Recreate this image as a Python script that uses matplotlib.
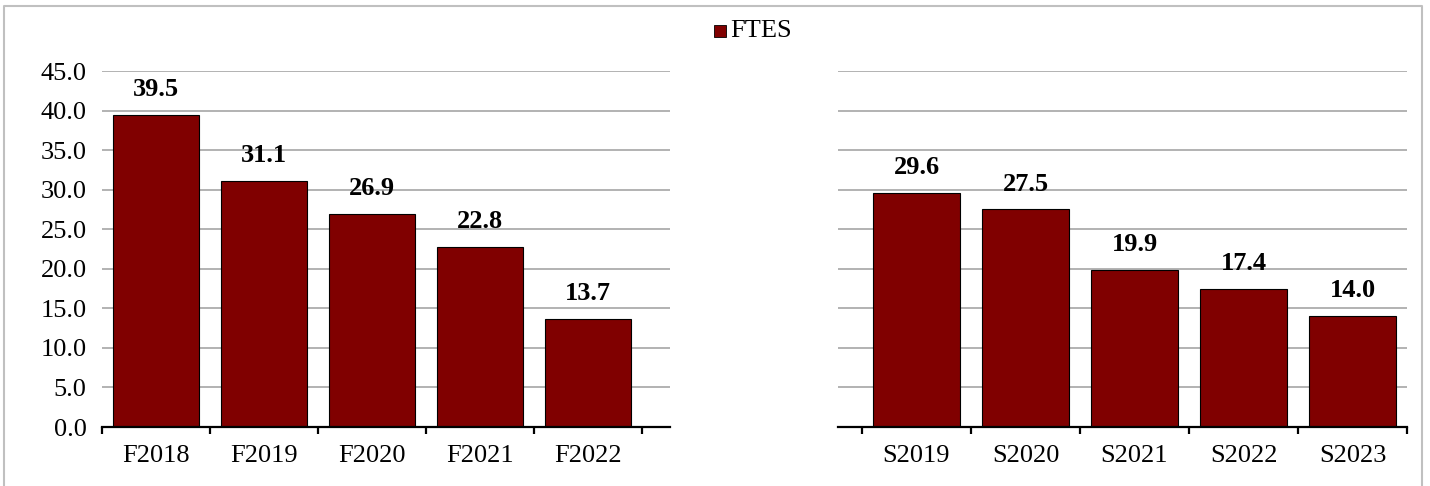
import matplotlib
matplotlib.use("Agg")
import matplotlib.pyplot as plt
from matplotlib.patches import Rectangle
from matplotlib.lines import Line2D
import numpy as np

fall_labels = ["F2018", "F2019", "F2020", "F2021", "F2022"]
fall_values = [39.5, 31.1, 26.9, 22.8, 13.7]
spring_labels = ["S2019", "S2020", "S2021", "S2022", "S2023"]
spring_values = [29.6, 27.5, 19.9, 17.4, 14.0]
y_ticks = [0, 5, 10, 15, 20, 25, 30, 35, 40, 45]
series_name = "FTES"

W, H = 1430, 486
DPI = 100
plt.rcParams['font.family'] = ['Liberation Serif', 'DejaVu Serif']
fig = plt.figure(figsize=(W / DPI, H / DPI), dpi=DPI)

BAR = "#800000"
GRID = "#a6a6a6"
FS = 19

def px(x0, y_top, w, h):
    return [x0 / W, 1 - (y_top + h) / H, w / W, h / H]

ax1 = fig.add_axes(px(102, 71, 568, 356))
ax2 = fig.add_axes(px(838, 71, 569, 356))

def style(ax, labels, values, xlim, show_y):
    x = np.arange(len(labels))
    ax.bar(x, values, width=0.8, color=BAR, edgecolor="black", linewidth=0.8, zorder=3)
    for xi, v in zip(x, values):
        ax.annotate(f"{v:.1f}", (xi, v), xytext=(0, 10), textcoords="offset points",
                    ha="center", va="bottom", fontsize=FS, fontweight="bold")
    ax.set_xlim(*xlim)
    ax.set_ylim(0, 45)
    ax.set_yticks(y_ticks)
    ax.yaxis.grid(True, color=GRID, linewidth=1.2, zorder=0)
    ax.set_axisbelow(True)
    for s in ["top", "right", "left"]:
        ax.spines[s].set_visible(False)
    ax.spines["bottom"].set_linewidth(1.6)
    ax.spines["bottom"].set_color("black")
    ax.spines["bottom"].set_zorder(4)
    ax.set_xticks(x)
    ax.set_xticklabels(labels, fontsize=FS)
    ax.set_xticks(np.arange(-0.5, len(labels) + 0.5, 1.0), minor=True)
    ax.tick_params(axis="x", which="major", length=0, pad=13)
    ax.tick_params(axis="x", which="minor", length=5, width=1.6, direction="out", color="black")
    ax.tick_params(axis="y", length=0, pad=11)
    if show_y:
        ax.set_yticklabels([f"{t:.1f}" for t in y_ticks], fontsize=FS)
    else:
        ax.set_yticklabels([])
    ax.set_facecolor("none")

style(ax1, fall_labels, fall_values, (-0.5, -0.5 + 568 / 108), True)
style(ax2, spring_labels, spring_values, (4.5 - 569 / 109, 4.5), False)

# figure border
fig.add_artist(Line2D([4 / W, 4 / W, 1422 / W, 1422 / W], [0, 1 - 6 / H, 1 - 6 / H, 0],
                      transform=fig.transFigure, color="#c0c0c0", linewidth=1.5))

# legend
fig.add_artist(Rectangle((714 / W, 1 - 37 / H), 12 / W, 12 / H, transform=fig.transFigure,
                         facecolor=BAR, edgecolor="black", linewidth=0.6))
fig.text(730 / W, 1 - 31 / H, series_name, fontsize=FS, va="center", ha="left")

fig.savefig("out.png", dpi=DPI)
